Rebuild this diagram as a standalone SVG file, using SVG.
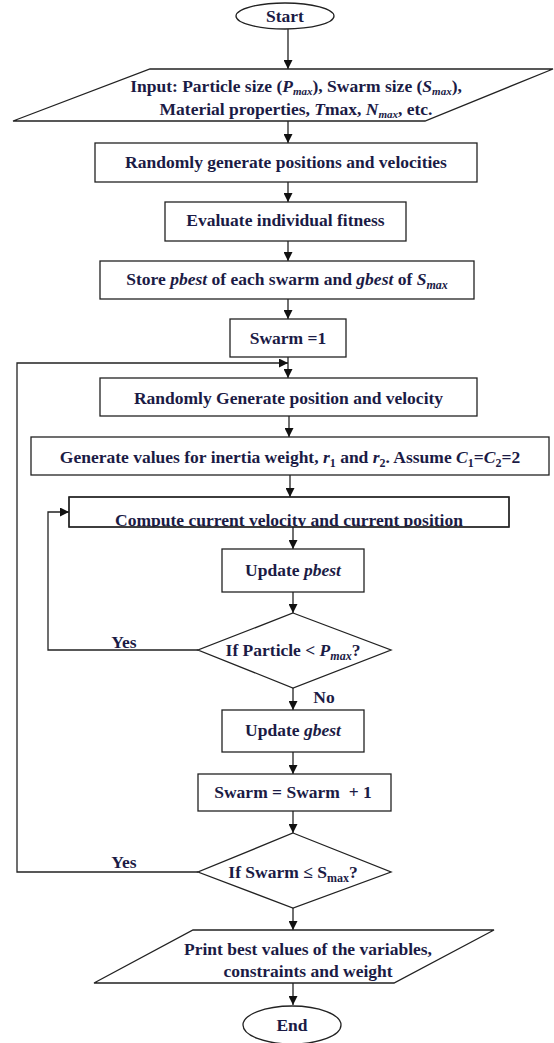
<svg xmlns="http://www.w3.org/2000/svg" width="554" height="1043" viewBox="0 0 554 1043">
<style>
.s{fill:#fff;stroke:#222;stroke-width:1.3}
.t{font-family:"Liberation Serif","Times New Roman",serif;font-weight:bold;font-size:17.5px;fill:#1b1b45;text-anchor:middle}
.i{font-style:italic}
.sub{font-size:12px}
.sm{font-size:11px}
.c{fill:none;stroke:#222;stroke-width:1.3}
</style>
<defs>
<marker id="a" markerWidth="9" markerHeight="9" refX="9" refY="4.5" orient="auto" markerUnits="userSpaceOnUse"><path d="M0,0 L9,4.5 L0,9 Z" fill="#111"/></marker>
<clipPath id="clip7"><rect x="69" y="497" width="440" height="30"/></clipPath>
</defs>
<rect width="554" height="1043" fill="#fff"/>

<g id="connectors">
<path class="c" d="M288,29 V69" marker-end="url(#a)"/>
<path class="c" d="M288,121 V143" marker-end="url(#a)"/>
<path class="c" d="M288,182 V202" marker-end="url(#a)"/>
<path class="c" d="M288,241 V261" marker-end="url(#a)"/>
<path class="c" d="M288,299 V319" marker-end="url(#a)"/>
<path class="c" d="M288,357 V378" marker-end="url(#a)"/>
<path class="c" d="M289,416 V437" marker-end="url(#a)"/>
<path class="c" d="M290,475 V497" marker-end="url(#a)"/>
<path class="c" d="M293,527 V549" marker-end="url(#a)"/>
<path class="c" d="M293,592 V613" marker-end="url(#a)"/>
<path class="c" d="M293,688 V710" marker-end="url(#a)"/>
<path class="c" d="M293,752 V774" marker-end="url(#a)"/>
<path class="c" d="M293,811 V833" marker-end="url(#a)"/>
<path class="c" d="M293,908 V930" marker-end="url(#a)"/>
<path class="c" d="M293,983 V1005" marker-end="url(#a)"/>
<path class="c" d="M198,650 H48 V512 H69" marker-end="url(#a)"/>
<path class="c" d="M198,872 H17 V363 H288" marker-end="url(#a)"/>
<text class="t" x="124" y="648">Yes</text>
<text class="t" x="124" y="868">Yes</text>
<text class="t" x="324" y="703">No</text>
</g>

<g id="start">
<ellipse class="s" cx="285" cy="16" rx="49" ry="13"/>
<text class="t" x="285" y="22">Start</text>
</g>

<g id="input">
<polygon class="s" points="150,69 553,69 425,121 13,121"/>
<text class="t" x="296" y="92">Input: Particle size (<tspan class="i">P</tspan><tspan class="i sm" dy="3">max</tspan><tspan dy="-3">), Swarm size (</tspan><tspan class="i">S</tspan><tspan class="i sm" dy="3">max</tspan><tspan dy="-3">),</tspan></text>
<text class="t" x="296" y="115">Material properties, <tspan class="i">T</tspan>max, <tspan class="i">N</tspan><tspan class="i sm" dy="3">max</tspan><tspan dy="-3">, etc.</tspan></text>
</g>

<g id="init">
<rect class="s" x="95" y="143" width="382" height="39"/>
<text class="t" x="286" y="168">Randomly generate positions and velocities</text>
</g>

<g id="evaluate">
<rect class="s" x="165" y="202" width="241" height="39"/>
<text class="t" x="285.5" y="226">Evaluate individual fitness</text>
</g>

<g id="store">
<rect class="s" x="100" y="261" width="374" height="38"/>
<text class="t" x="287" y="285">Store <tspan class="i">pbest</tspan> of each swarm and <tspan class="i">gbest</tspan> of <tspan class="i">S</tspan><tspan class="i sub" dy="4">max</tspan></text>
</g>

<g id="swarm1">
<rect class="s" x="230" y="319" width="116" height="38"/>
<text class="t" x="288" y="344">Swarm =1</text>
</g>

<g id="randgen">
<rect class="s" x="100" y="378" width="377" height="38"/>
<text class="t" x="288.5" y="404">Randomly Generate position and velocity</text>
</g>

<g id="values">
<rect class="s" x="31" y="437" width="518" height="38"/>
<text class="t" x="290" y="463">Generate values for inertia weight, <tspan class="i">r</tspan><tspan class="sub" dy="4">1</tspan><tspan dy="-4"> and </tspan><tspan class="i">r</tspan><tspan class="sub" dy="4">2</tspan><tspan dy="-4">. Assume </tspan><tspan class="i">C</tspan><tspan class="sub" dy="4">1</tspan><tspan dy="-4">=</tspan><tspan class="i">C</tspan><tspan class="sub" dy="4">2</tspan><tspan dy="-4">=2</tspan></text>
</g>

<g id="compute">
<rect class="s" x="69" y="497" width="440" height="30"/>
<text class="t" x="289" y="526" clip-path="url(#clip7)">Compute current velocity and current position</text>
<rect x="69" y="497" width="440" height="30" fill="none" stroke="#222" stroke-width="1.3"/>
</g>

<g id="pbest">
<rect class="s" x="222" y="549" width="142" height="43"/>
<text class="t" x="293" y="576">Update <tspan class="i">pbest</tspan></text>
</g>

<g id="particle">
<polygon class="s" points="293,613 391,650 293,688 198,650"/>
<text class="t" x="293" y="656">If Particle &lt; <tspan class="i">P</tspan><tspan class="i sub" dy="4">max</tspan><tspan dy="-4">?</tspan></text>
</g>

<g id="gbest">
<rect class="s" x="222" y="710" width="142" height="42"/>
<text class="t" x="293" y="736">Update <tspan class="i">gbest</tspan></text>
</g>

<g id="incr">
<rect class="s" x="198" y="774" width="193" height="37"/>
<text class="t" x="293" y="798" xml:space="preserve">Swarm = Swarm  + 1</text>
</g>

<g id="swarmcheck">
<polygon class="s" points="293,833 391,872 293,908 198,872"/>
<text class="t" x="293" y="878">If Swarm ≤ S<tspan class="sub" dy="4">max</tspan><tspan dy="-4">?</tspan></text>
</g>

<g id="print">
<polygon class="s" points="193,930 494,930 394,983 94,983"/>
<text class="t" x="308" y="955">Print best values of the variables,</text>
<text class="t" x="308" y="977">constraints and weight</text>
</g>

<g id="end">
<ellipse class="s" cx="292" cy="1025" rx="49" ry="19"/>
<text class="t" x="292" y="1031">End</text>
</g>
</svg>
